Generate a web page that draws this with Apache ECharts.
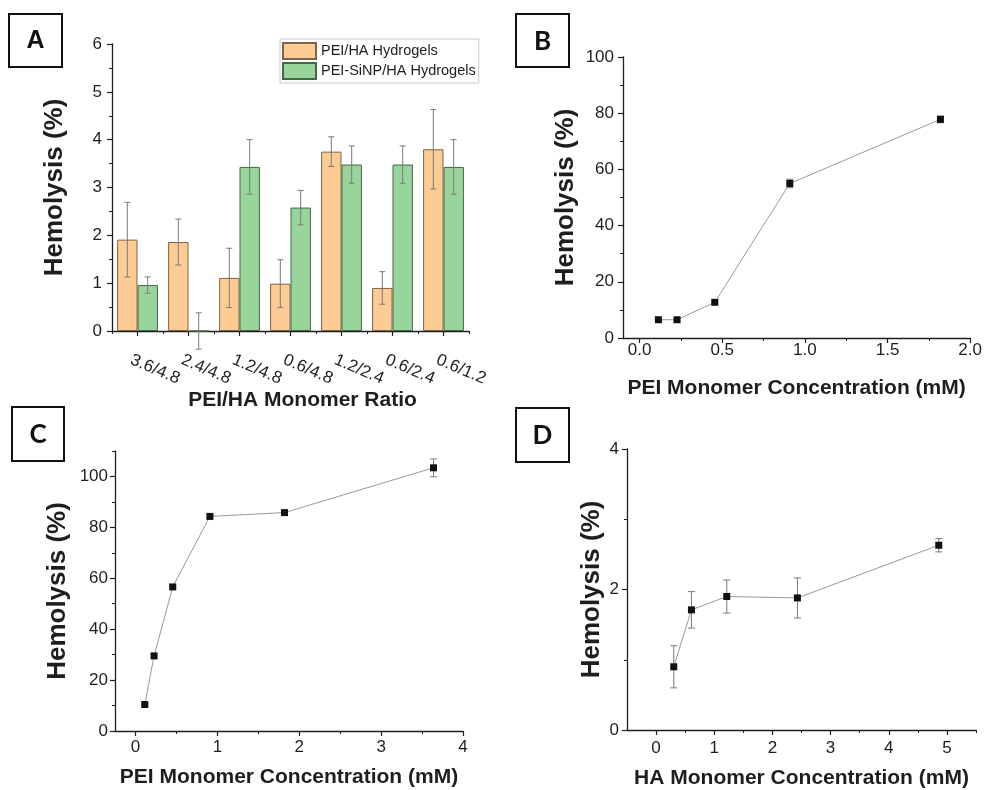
<!DOCTYPE html>
<html>
<head>
<meta charset="utf-8">
<script src="https://cdn.jsdelivr.net/npm/echarts@6/dist/echarts.min.js"></script>
<style>
  html, body { margin: 0; padding: 0; background: #fff; }
  #chart { width: 985px; height: 790px; }
</style>
</head>
<body>
<div id="chart"></div>
<script>
// ---- Panel A: hemolysis of the hydrogels by PEI/HA monomer ratio ----
const ratioLabels = ['3.6/4.8', '2.4/4.8', '1.2/4.8', '0.6/4.8', '1.2/2.4', '0.6/2.4', '0.6/1.2'];
const peiHaMean = [1.91, 1.86, 1.11, 0.99, 3.75, 0.90, 3.80];
const peiHaErr  = [0.78, 0.48, 0.62, 0.50, 0.31, 0.34, 0.83];
const sinpMean  = [0.96, 0.00, 3.43, 2.58, 3.48, 3.48, 3.43];
const sinpErr   = [0.17, 0.38, 0.57, 0.36, 0.39, 0.39, 0.57];

// ---- Panel B: PEI alone ----
const peiConcB    = [0.114, 0.227, 0.455, 0.909, 1.82];
const hemolysisB  = [6.5, 6.5, 12.7, 55.0, 77.8];
const errB        = [0.5, 0.5, 0.5, 1.5, 1.2];

// ---- Panel C: PEI concentration series ----
const peiConcC    = [0.114, 0.227, 0.455, 0.909, 1.82, 3.64];
const hemolysisC  = [10.4, 29.5, 56.6, 84.3, 85.8, 103.4];
const errC        = [0.5, 0.6, 0.6, 0.8, 0.7, 3.5];

// ---- Panel D: HA concentration series ----
const haConcD     = [0.304, 0.608, 1.215, 2.43, 4.86];
const hemolysisD  = [0.90, 1.71, 1.90, 1.88, 2.63];
const errD        = [0.30, 0.26, 0.235, 0.285, 0.095];

// ---- tick values (major / minor) ----
const ticksAy = [0, 1, 2, 3, 4, 5, 6];
const minorAy = [0.5, 1.5, 2.5, 3.5, 4.5, 5.5];
const ticksBx = [0, 0.5, 1, 1.5, 2];
const minorBx = [0.25, 0.75, 1.25, 1.75];
const ticksBy = [0, 20, 40, 60, 80, 100];
const minorBy = [10, 30, 50, 70, 90];
const ticksCx = [0, 1, 2, 3, 4];
const minorCx = [0.5, 1.5, 2.5, 3.5];
const ticksCy = [0, 20, 40, 60, 80, 100];
const minorCy = [10, 30, 50, 70, 90, 110];
const ticksDx = [0, 1, 2, 3, 4, 5];
const minorDx = [0.5, 1.5, 2.5, 3.5, 4.5, 5.5];
const ticksDy = [0, 2, 4];
const minorDy = [1, 3];

const FONT = "'Liberation Sans', Arial, sans-serif";
const INK = '#1e1e1e';
const ORANGE = '#FDCB94', ORANGE_EDGE = '#7f6346';
const GREEN = '#98D59B', GREEN_EDGE = '#46664a';
const ERR_GRAY = '#7a7a7a';

const chart = echarts.init(document.getElementById('chart'), null, { renderer: 'canvas' });

// main value axis: line, major ticks and labels at explicit values
function mainAxis(grid, pos, min, max, ticks, fmt, margin, name, nameGap, extra) {
  return Object.assign({
    type: 'value', gridIndex: grid, position: pos, min, max,
    splitLine: { show: false },
    axisLine: { show: true, onZero: false, lineStyle: { color: INK, width: 1.3 } },
    axisTick: { show: true, inside: false, length: 5, customValues: ticks, lineStyle: { color: INK, width: 1.2 } },
    axisLabel: { show: true, customValues: ticks, formatter: fmt, margin, fontFamily: FONT, fontSize: 17, color: INK },
    name, nameLocation: 'middle', nameGap,
    nameTextStyle: { fontFamily: FONT, fontWeight: 'bold', fontSize: pos === 'left' ? 26 : 21, color: INK }
  }, extra || {});
}
// overlay axis carrying only the short minor ticks
function minorAxis(grid, pos, min, max, ticks) {
  return {
    type: 'value', gridIndex: grid, position: pos, min, max,
    splitLine: { show: false },
    axisLine: { show: false, onZero: false },
    axisTick: { show: true, inside: false, length: 3, customValues: ticks, lineStyle: { color: INK, width: 1 } },
    axisLabel: { show: false }
  };
}

// vertical error bars with caps
function errorBars(xIdx, yIdx, xs, ys, es, opts) {
  const o = Object.assign({ cap: 3.5, color: ERR_GRAY, shift: 0 }, opts || {});
  return {
    type: 'custom', xAxisIndex: xIdx, yAxisIndex: yIdx, z: 1, silent: true,
    data: xs.map((x, i) => [x, ys[i] - es[i], ys[i] + es[i]]),
    encode: { x: 0, y: [1, 2] },
    renderItem(params, api) {
      const lo = api.coord([api.value(0), api.value(1)]);
      const hi = api.coord([api.value(0), api.value(2)]);
      const dx = o.shift ? o.shift * api.size([1, 0])[0] : 0;
      const x = lo[0] + dx;
      const style = { stroke: o.color, lineWidth: 1 };
      return {
        type: 'group',
        children: [
          { type: 'line', shape: { x1: x, y1: lo[1], x2: x, y2: hi[1] }, style },
          { type: 'line', shape: { x1: x - o.cap, y1: hi[1], x2: x + o.cap, y2: hi[1] }, style },
          { type: 'line', shape: { x1: x - o.cap, y1: lo[1], x2: x + o.cap, y2: lo[1] }, style }
        ]
      };
    }
  };
}

function pointLine(xIdx, yIdx, xs, ys, name) {
  return {
    name, type: 'line', xAxisIndex: xIdx, yAxisIndex: yIdx, z: 3,
    data: xs.map((x, i) => [x, ys[i]]),
    symbol: 'rect', symbolSize: 7, showSymbol: true,
    itemStyle: { color: '#111' },
    lineStyle: { color: '#9a9a9a', width: 1 },
    emphasis: { disabled: true }
  };
}

// panel letter in a square frame
function panelTag(letter, x, y, w, h, family, size) {
  return [
    { type: 'rect', shape: { x, y, width: w, height: h }, style: { fill: '#fff', stroke: '#111', lineWidth: 2 } },
    { type: 'text', x: x + w / 2, y: y + h / 2 + 1,
      style: { text: letter, fontFamily: family, fontWeight: 'bold', fontSize: size, fill: '#111', align: 'center', verticalAlign: 'middle' } }
  ];
}

const option = {
  animation: false,
  backgroundColor: '#fff',
  textStyle: { fontFamily: FONT },
  grid: [
    { left: 112, top: 44, width: 357, height: 287 },
    { left: 623, top: 57, width: 349, height: 281 },
    { left: 115, top: 451, width: 348, height: 280 },
    { left: 627, top: 449, width: 349, height: 282 }
  ],
  legend: {
    data: ['PEI/HA Hydrogels', 'PEI-SiNP/HA Hydrogels'],
    orient: 'vertical', left: 280, top: 39,
    icon: 'rect',
    itemWidth: 33, itemHeight: 16, itemGap: 2,
    padding: [3, 3, 3, 2],
    borderColor: '#c9c9c9', borderWidth: 1,
    selectedMode: false,
    textStyle: { fontFamily: FONT, fontSize: 14.5, color: INK }
  },
  xAxis: [
    // 0: panel A categories
    {
      type: 'category', gridIndex: 0, position: 'bottom', data: ratioLabels,
      boundaryGap: true,
      axisLine: { show: true, onZero: false, lineStyle: { color: INK, width: 1.3 } },
      axisTick: { show: true, alignWithLabel: true, length: 5, lineStyle: { color: INK, width: 1.2 } },
      axisLabel: { rotate: -23, margin: 31, align: 'left', verticalAlign: 'middle', padding: [0, 0, 0, -7],
                   fontFamily: FONT, fontSize: 17, color: INK, interval: 0 },
      name: 'PEI/HA Monomer Ratio', nameLocation: 'middle', nameGap: 59,
      nameTextStyle: { fontFamily: FONT, fontWeight: 'bold', fontSize: 21, color: INK, padding: [0, 0, 0, 24] }
    },
    // 1: panel A minor ticks at category boundaries
    {
      type: 'category', gridIndex: 0, position: 'bottom', data: ratioLabels, boundaryGap: true,
      axisLine: { show: false, onZero: false }, axisLabel: { show: false },
      axisTick: { show: true, length: 3, lineStyle: { color: INK, width: 1 } }
    },
    // 2,3: panel B
    mainAxis(1, 'bottom', -0.1, 2.0, ticksBx, v => v.toFixed(1), 4, 'PEI Monomer Concentration (mM)', 40),
    minorAxis(1, 'bottom', -0.1, 2.0, minorBx),
    // 4,5: panel C
    mainAxis(2, 'bottom', -0.25, 4, ticksCx, v => String(v), 8, 'PEI Monomer Concentration (mM)', 36),
    minorAxis(2, 'bottom', -0.25, 4, minorCx),
    // 6,7: panel D
    mainAxis(3, 'bottom', -0.5, 5.5, ticksDx, v => String(v), 10, 'HA Monomer Concentration (mM)', 38),
    minorAxis(3, 'bottom', -0.5, 5.5, minorDx)
  ],
  yAxis: [
    // 0,1: panel A
    mainAxis(0, 'left', 0, 6, ticksAy, v => String(v), 10, 'Hemolysis (%)', 44),
    minorAxis(0, 'left', 0, 6, minorAy),
    // 2,3: panel B
    mainAxis(1, 'left', 0, 100, ticksBy, v => String(v), 9, 'Hemolysis (%)', 44),
    minorAxis(1, 'left', 0, 100, minorBy),
    // 4,5: panel C
    mainAxis(2, 'left', 0, 110, ticksCy, v => String(v), 7, 'Hemolysis (%)', 44),
    minorAxis(2, 'left', 0, 110, minorCy),
    // 6,7: panel D
    mainAxis(3, 'left', 0, 4, ticksDy, v => String(v), 8, 'Hemolysis (%)', 22),
    minorAxis(3, 'left', 0, 4, minorDy)
  ],
  series: [
    {
      name: 'PEI/HA Hydrogels', type: 'bar', xAxisIndex: 0, yAxisIndex: 0,
      data: peiHaMean, barGap: '0%', barCategoryGap: '20%', z: 2,
      itemStyle: { color: ORANGE, borderColor: ORANGE_EDGE, borderWidth: 1 }
    },
    {
      name: 'PEI-SiNP/HA Hydrogels', type: 'bar', xAxisIndex: 0, yAxisIndex: 0,
      data: sinpMean, barGap: '0%', barCategoryGap: '20%', z: 2,
      itemStyle: { color: GREEN, borderColor: GREEN_EDGE, borderWidth: 1 }
    },
    Object.assign(errorBars(0, 0, ratioLabels.map((_, i) => i), peiHaMean, peiHaErr, { shift: -0.2, cap: 3 }), { z: 4 }),
    Object.assign(errorBars(0, 0, ratioLabels.map((_, i) => i), sinpMean, sinpErr, { shift: 0.2, cap: 3 }), { z: 4 }),

    errorBars(2, 2, peiConcB, hemolysisB, errB),
    pointLine(2, 2, peiConcB, hemolysisB, 'PEI'),

    errorBars(4, 4, peiConcC, hemolysisC, errC),
    pointLine(4, 4, peiConcC, hemolysisC, 'PEI conc'),

    errorBars(6, 6, haConcD, hemolysisD, errD),
    pointLine(6, 6, haConcD, hemolysisD, 'HA conc')
  ],
  graphic: [
    ...panelTag('A', 9, 14, 53, 53, FONT, 25),
    ...panelTag('B', 516, 14, 53, 53, "Lato, 'Open Sans', sans-serif", 26),
    ...panelTag('C', 12, 407, 52, 54, "Lato, 'Open Sans', sans-serif", 26),
    ...panelTag('D', 516, 408, 53, 54, "Lato, 'Open Sans', sans-serif", 26)
  ]
};

chart.setOption(option);
</script>
</body>
</html>
